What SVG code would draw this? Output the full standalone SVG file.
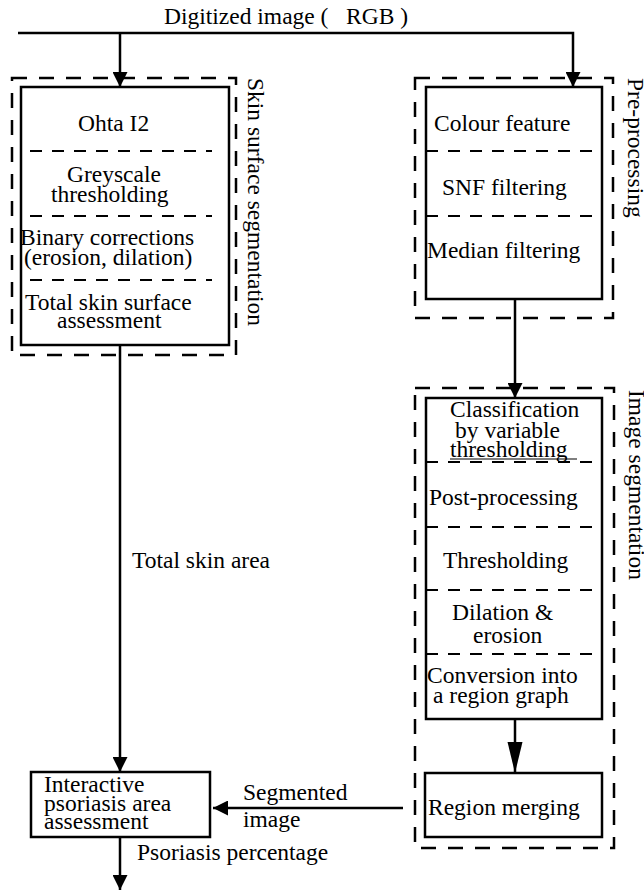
<svg xmlns="http://www.w3.org/2000/svg" width="644" height="892" viewBox="0 0 644 892">
<style>
.t{font-family:"Liberation Serif","Times New Roman",serif;font-size:23.5px;fill:#000}
.box{fill:#fff;stroke:#000;stroke-width:2.5}
.grp{fill:none;stroke:#000;stroke-width:2.5;stroke-dasharray:15 12}
.div{fill:none;stroke:#000;stroke-width:2.2;stroke-dasharray:12 10}
.wire{fill:none;stroke:#000;stroke-width:2.5}
</style>
<defs>
<marker id="ah" markerUnits="userSpaceOnUse" markerWidth="15" markerHeight="15" refX="15" refY="7.5" orient="auto"><path d="M0,0 L15,7.5 L0,15 z" fill="#000"/></marker>
<marker id="ahl" markerUnits="userSpaceOnUse" markerWidth="32" markerHeight="16" refX="31" refY="8" orient="auto"><path d="M0,0.5 L31,8 L0,15.5 z" fill="#000"/></marker>
</defs>
<g id="title"><text class="t" x="164" y="24" xml:space="preserve">Digitized image (   RGB )</text></g>
<g id="skin-surface-segmentation">
<rect class="grp" x="12" y="78" width="224" height="277"/>
<rect class="box" x="21" y="87" width="208" height="258"/>
<path class="div" d="M30,151 H212 M30,216 H212 M30,280 H212"/>
<text class="t" x="78" y="131">Ohta I2</text>
<text class="t" x="67" y="182">Greyscale</text>
<text class="t" x="51" y="202">thresholding</text>
<text class="t" x="20" y="245">Binary corrections</text>
<text class="t" x="24" y="265">(erosion, dilation)</text>
<text class="t" x="25" y="310">Total skin surface</text>
<text class="t" x="57" y="328">assessment</text>
<text class="t" transform="translate(248,78) rotate(90)">Skin surface segmentation</text>
</g>
<g id="pre-processing">
<rect class="grp" x="415" y="78" width="198" height="240"/>
<rect class="box" x="426" y="87" width="176" height="212"/>
<path class="div" d="M426,151 H602 M426,216 H602"/>
<text class="t" x="434" y="131">Colour feature</text>
<text class="t" x="442" y="195">SNF filtering</text>
<text class="t" x="427" y="258">Median filtering</text>
<text class="t" transform="translate(628,78) rotate(90)">Pre-processing</text>
</g>
<g id="image-segmentation">
<rect class="grp" x="415" y="388" width="199" height="460"/>
<rect class="box" x="426" y="398" width="176" height="321"/>
<path class="div" d="M426,462 H602 M426,527 H602 M426,590 H602 M426,654 H602"/>
<line x1="450" y1="459" x2="577" y2="459" stroke="#000" stroke-width="1.2"/>
<text class="t" x="450" y="417">Classification</text>
<text class="t" x="455" y="438">by variable</text>
<text class="t" x="450" y="457">thresholding</text>
<text class="t" x="429" y="505">Post-processing</text>
<text class="t" x="443" y="568">Thresholding</text>
<text class="t" x="452" y="620">Dilation &amp;</text>
<text class="t" x="473" y="643">erosion</text>
<text class="t" x="427" y="683">Conversion into</text>
<text class="t" x="433" y="703">a region graph</text>
<text class="t" transform="translate(629,390) rotate(90)">Image segmentation</text>
</g>
<g id="region-merging">
<rect class="box" x="425" y="773" width="177" height="64"/>
<text class="t" x="428" y="815">Region merging</text>
</g>
<g id="interactive-assessment">
<rect class="box" x="31" y="772" width="179" height="65"/>
<text class="t" x="44" y="792">Interactive</text>
<text class="t" x="44" y="811">psoriasis area</text>
<text class="t" x="44" y="829">assessment</text>
</g>
<g id="connectors">
<path class="wire" d="M18,33 H573 V87" marker-end="url(#ah)"/>
<path class="wire" d="M120,33 V87" marker-end="url(#ah)"/>
<path class="wire" d="M120,345 V772" marker-end="url(#ah)"/>
<path class="wire" d="M120,837 V890" marker-end="url(#ah)"/>
<path class="wire" d="M515,299 V398" marker-end="url(#ah)"/>
<path class="wire" d="M515,719 V773" marker-end="url(#ahl)"/>
<path class="wire" d="M403,808 H213" marker-end="url(#ah)"/>
<text class="t" x="132" y="568">Total skin area</text>
<text class="t" x="243" y="800">Segmented</text>
<text class="t" x="243" y="827">image</text>
<text class="t" x="137" y="860">Psoriasis percentage</text>
</g>
</svg>
